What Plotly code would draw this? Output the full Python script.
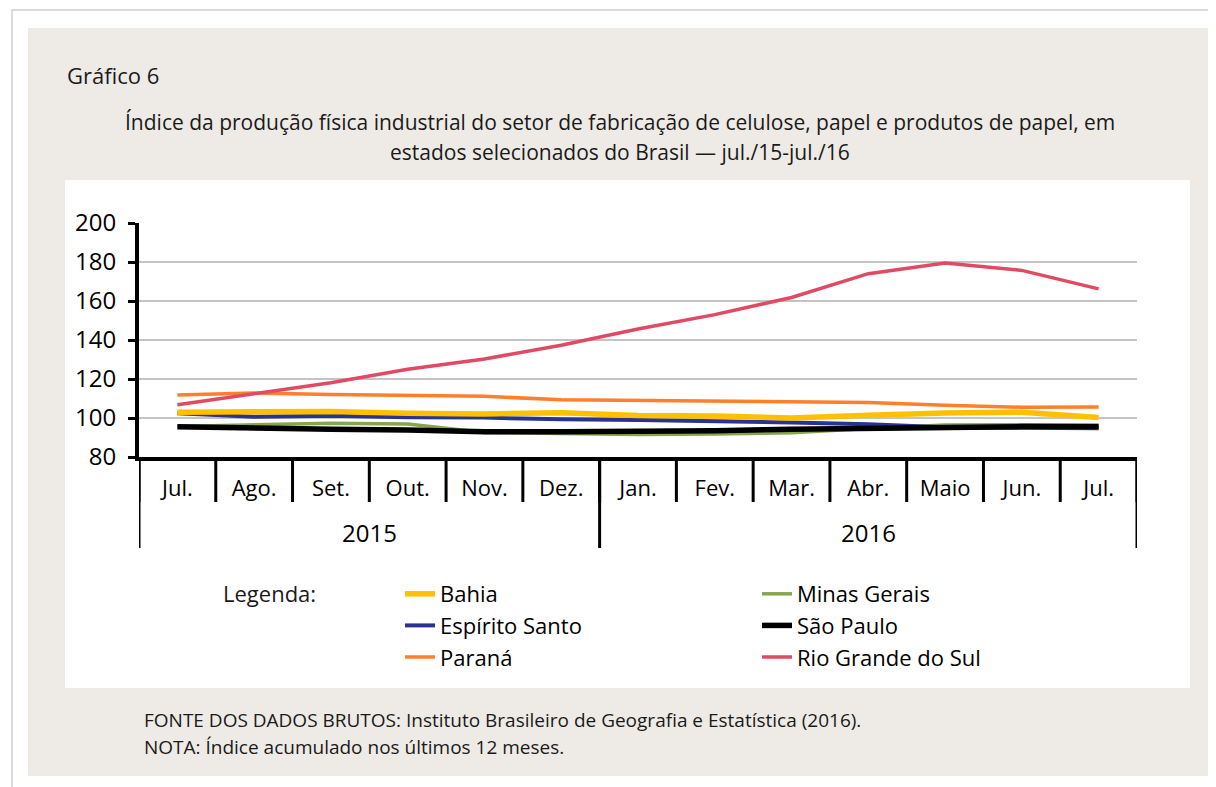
import plotly.graph_objects as go

# ---------------- data ----------------
months = ["Jul.", "Ago.", "Set.", "Out.", "Nov.", "Dez.", "Jan.", "Fev.", "Mar.", "Abr.", "Maio", "Jun.", "Jul."]
years = ["2015", "2016"]
months_per_year = [6, 7]

bahia = [103.0, 103.2, 103.3, 102.4, 102.1, 102.7, 101.3, 101.0, 100.0, 101.4, 102.6, 103.0, 100.3]
espirito_santo = [102.5, 100.7, 101.2, 100.4, 100.2, 99.3, 99.0, 98.5, 97.7, 96.8, 95.3, 95.0, 94.8]
minas_gerais = [95.7, 96.4, 97.3, 96.9, 92.6, 92.1, 91.6, 91.8, 92.4, 94.6, 96.4, 96.5, 96.2]
sao_paulo = [95.5, 95.2, 94.2, 93.8, 93.0, 93.0, 93.0, 93.5, 94.2, 94.9, 95.5, 95.6, 95.6]
parana = [111.8, 112.8, 112.1, 111.5, 111.1, 109.4, 109.1, 108.7, 108.2, 107.9, 106.6, 105.5, 105.7]
rio_grande_do_sul = [106.8, 112.4, 118.1, 125.0, 130.3, 137.3, 145.6, 153.0, 161.8, 174.0, 179.5, 175.7, 166.2]

y_ticks = [80, 100, 120, 140, 160, 180, 200]

# ---------------- layout constants (reference-page pixels) ----------------
OFF = 8                      # page body margin
W, H = 1216 - OFF, 787 - OFF
PL, PR, PT, PB = 139, 1137, 223, 457
FONT = "Open Sans"
TXT = "#1A1A1A"


def px_x(p):
    return (p - PL) / (PR - PL)


def px_y(p):
    return (PB - p) / (PB - PT)


xpos = list(range(len(months)))

series = [
    # name, values, color, width, legend, rank
    ("Minas Gerais", minas_gerais, "#86A64E", 3.5, "legend2", 1),
    ("Espírito Santo", espirito_santo, "#283393", 4, "legend", 2),
    ("Bahia", bahia, "#FFC000", 5.5, "legend", 1),
    ("Paraná", parana, "#FF7F2A", 3.5, "legend", 3),
    ("Rio Grande do Sul", rio_grande_do_sul, "#E04A64", 3.5, "legend2", 3),
    ("São Paulo", sao_paulo, "#000000", 5.5, "legend2", 2),
]

fig = go.Figure()
for name, vals, color, width, leg, rank in series:
    fig.add_trace(go.Scatter(
        x=xpos, y=vals, mode="lines", name=name,
        line=dict(color=color, width=width),
        legend=leg, legendrank=rank, legendgroup=name,
    ))

# boundaries between months and years (category positions on the x axis)
month_bounds = [i - 0.5 for i in range(len(months) + 1)]
year_bounds = [-0.5]
year_centers = []
acc = -0.5
for n in months_per_year:
    year_centers.append(acc + n / 2)
    acc += n
    year_bounds.append(acc)

xr = [-0.5, len(months) - 0.5]

shapes = [
    # outer frame
    dict(type="rect", xref="paper", yref="paper", x0=px_x(12), x1=px_x(1230), y0=px_y(10), y1=px_y(800),
         line=dict(color="#D0D0D0", width=1.5), fillcolor="#FFFFFF", layer="below"),
    # beige panel
    dict(type="rect", xref="paper", yref="paper", x0=px_x(28), x1=px_x(1208), y0=px_y(28), y1=px_y(776),
         line=dict(width=0), fillcolor="#EEEBE6", layer="below"),
    # white chart box
    dict(type="rect", xref="paper", yref="paper", x0=px_x(65), x1=px_x(1190), y0=px_y(180), y1=px_y(688),
         line=dict(width=0), fillcolor="#FFFFFF", layer="below"),
]
# month dividers of the category table
for b in month_bounds:
    shapes.append(dict(type="line", xref="x", yref="paper", x0=b, x1=b, y0=0, y1=px_y(502),
                       line=dict(color="#000000", width=3), layer="above"))
# year dividers
for b in year_bounds:
    shapes.append(dict(type="line", xref="x", yref="paper", x0=b, x1=b, y0=0, y1=px_y(548),
                       line=dict(color="#000000", width=3), layer="above"))

annotations = [
    dict(text="Gráfico 6", xref="paper", yref="paper", x=px_x(65), y=px_y(75), xanchor="left", yanchor="middle",
         showarrow=False, font=dict(family=FONT, size=22, color=TXT)),
    dict(text="Índice da produção física industrial do setor de fabricação de celulose, papel e produtos de papel, em",
         xref="paper", yref="paper", x=px_x(620), y=px_y(122), xanchor="center", yanchor="middle",
         showarrow=False, font=dict(family=FONT, size=21, color=TXT)),
    dict(text="estados selecionados do Brasil — jul./15-jul./16",
         xref="paper", yref="paper", x=px_x(620), y=px_y(152), xanchor="center", yanchor="middle",
         showarrow=False, font=dict(family=FONT, size=21, color=TXT)),
    dict(text="Legenda:", xref="paper", yref="paper", x=px_x(221), y=px_y(593), xanchor="left", yanchor="middle",
         showarrow=False, font=dict(family=FONT, size=22, color=TXT)),
    dict(text="FONTE DOS DADOS BRUTOS: Instituto Brasileiro de Geografia e Estatística (2016).",
         xref="paper", yref="paper", x=px_x(142), y=px_y(720), xanchor="left", yanchor="middle",
         showarrow=False, font=dict(family=FONT, size=19, color=TXT)),
    dict(text="NOTA: Índice acumulado nos últimos 12 meses.",
         xref="paper", yref="paper", x=px_x(142), y=px_y(747), xanchor="left", yanchor="middle",
         showarrow=False, font=dict(family=FONT, size=19, color=TXT)),
]
for yc, yl in zip(year_centers, years):
    annotations.append(dict(text=yl, xref="x", yref="paper", x=yc, y=px_y(532), xanchor="center",
                            yanchor="middle", showarrow=False,
                            font=dict(family=FONT, size=24, color="#000000")))

fig.update_layout(
    width=W, height=H,
    margin=dict(l=PL - OFF, r=W - (PR - OFF), t=PT - OFF, b=H - (PB - OFF), pad=0, autoexpand=False),
    paper_bgcolor="#FFFFFF",
    plot_bgcolor="rgba(0,0,0,0)",
    shapes=shapes,
    annotations=annotations,
    xaxis=dict(
        range=xr, tickmode="array", tickvals=xpos, ticktext=months,
        ticks="", showgrid=False, zeroline=False, tickangle=0,
        showline=True, linecolor="#000000", linewidth=4,
        tickfont=dict(family=FONT, size=22, color="#000000"), ticklabelstandoff=9,
    ),
    yaxis=dict(
        range=[80, 200], tickmode="array", tickvals=y_ticks,
        showgrid=True, gridcolor="#C4C4C4", gridwidth=2, zeroline=False,
        showline=True, linecolor="#000000", linewidth=4,
        ticks="outside", ticklen=7, tickwidth=3, tickcolor="#000000",
        tickfont=dict(family=FONT, size=24, color="#000000"), ticklabelstandoff=7,
    ),
    legend=dict(
        xref="container", yref="container", x=(400 - OFF) / W, y=1 - (573 - OFF) / H,
        xanchor="left", yanchor="top", orientation="v",
        bgcolor="rgba(0,0,0,0)", borderwidth=0, tracegroupgap=2.5,
        font=dict(family=FONT, size=22, color="#000000"), traceorder="normal",
    ),
    legend2=dict(
        xref="container", yref="container", x=(757 - OFF) / W, y=1 - (573 - OFF) / H,
        xanchor="left", yanchor="top", orientation="v",
        bgcolor="rgba(0,0,0,0)", borderwidth=0, tracegroupgap=2.5,
        font=dict(family=FONT, size=22, color="#000000"), traceorder="normal",
    ),
    showlegend=True,
)

fig.write_html("out.html")
